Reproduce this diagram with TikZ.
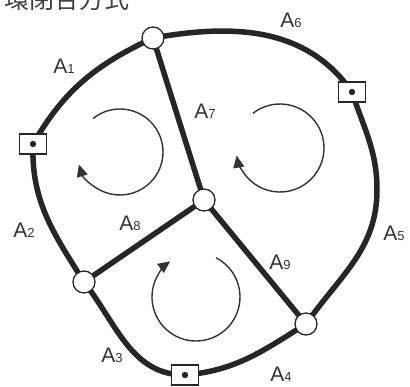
\documentclass[tikz,border=0pt]{standalone}
\usepackage{fontspec}
\setmainfont{Liberation Sans}
\newfontfamily\jpfont{Noto Sans CJK JP}
\usepackage{tikz}
\usetikzlibrary{arrows.meta}

\newcommand{\lab}[1]{\fontsize{21}{21}\selectfont A\fontsize{13}{13}\selectfont #1}

\begin{document}
\begin{tikzpicture}[x=1pt, y=1pt,
      pt/.style={draw=black!85, line width=1.3pt, fill=white, circle, minimum size=22pt, inner sep=0pt},
      known/.style={draw=black!85, line width=1.1pt, fill=white, rectangle, minimum width=27pt, minimum height=20pt, inner sep=0pt},
      route/.style={line width=5.5pt, draw=black!85},
      lbl/.style={text=black!80, inner sep=0pt},
      turn/.style={line width=1.4pt, draw=black!80, -{Triangle[length=12pt, width=11pt]}}]
    \clip (0,0) rectangle (410,-386);
    \node[anchor=base west, text=black!75, inner sep=0pt] (title) at (4,-8) {\jpfont\fontsize{25}{25}\selectfont 環閉合方式};
    % routes
    \coordinate (n1) at (153,-38);
    \coordinate (n2) at (204,-200);
    \coordinate (n3) at (84,-282);
    \coordinate (n4) at (306,-324);
    \coordinate (s1) at (33,-144);
    \coordinate (s2) at (352,-92);
    \coordinate (s3) at (185,-375);
    \coordinate (bend5) at (377,-190);
    \draw[route] (n1) to[out=205, in=60] (s1);
    \draw[route] (s1) to[out=268, in=122] (n3);
    \draw[route] (n3) to[out=-52, in=180] (s3);
    \draw[route] (s3) to[out=5, in=212] (n4);
    \draw[route] (n4) to[out=55, in=-90] (bend5) to[out=90, in=-72] (s2);
    \draw[route] (s2) to[out=125, in=10] (n1);
    \draw[route] (n1) -- (n2);
    \draw[route] (n2) -- (n3);
    \draw[route] (n2) -- (n4);
    % points
    \node[pt] (p1) at (n1) {};
    \node[pt] (p2) at (n2) {};
    \node[pt] (p3) at (n3) {};
    \node[pt] (p4) at (n4) {};
    \foreach \k in {1,2,3} {
      \node[known] (k\k) at (s\k) {};
      \fill[black!85] (k\k.center) circle (3.2pt);
    }
    % labels
    \node[lbl] (lA1) at (64,-66) {\lab{1}};
    \node[lbl] (lA2) at (24,-230) {\lab{2}};
    \node[lbl] (lA3) at (112,-355) {\lab{3}};
    \node[lbl] (lA4) at (281,-374) {\lab{4}};
    \node[lbl] (lA5) at (394,-233) {\lab{5}};
    \node[lbl] (lA6) at (291,-20) {\lab{6}};
    \node[lbl] (lA7) at (205,-111) {\lab{7}};
    \node[lbl] (lA8) at (130,-223) {\lab{8}};
    \node[lbl] (lA9) at (280,-262) {\lab{9}};
    % loop directions
    \coordinate (c1) at (120,-152);
    \coordinate (c2) at (280,-148);
    \coordinate (c3) at (196,-297);
    \draw[turn] ([shift={(129:43pt)}]c1) arc[start angle=129, end angle=-163, radius=43pt];
    \draw[turn] ([shift={(128:44pt)}]c2) arc[start angle=128, end angle=-170, radius=44pt];
    \draw[turn] ([shift={(63:44pt)}]c3) arc[start angle=63, end angle=-234, radius=44pt];
\end{tikzpicture}
\end{document}
